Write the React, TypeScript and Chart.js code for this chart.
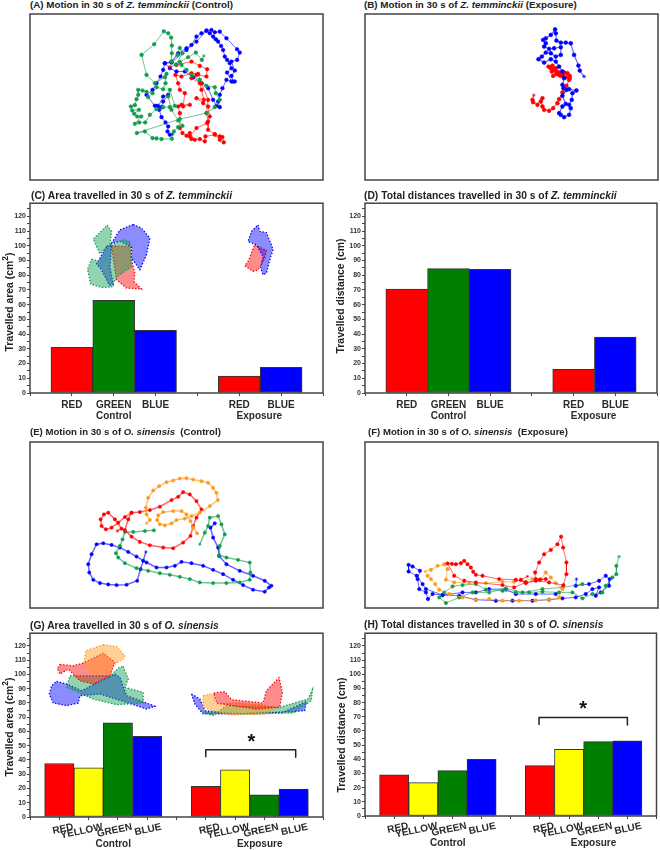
import React, { useEffect, useRef } from "react";
import { Chart, registerables } from "chart.js";
Chart.register(...registerables);

type P = [number, number];

const RED = "#ff0000", GREEN = "#0f9d4e", BLUE = "#0000ff", ORANGE = "#ff9a1c", BAR_GREEN = "#008000", YELLOW = "#ffff00";

// --- bar values
const ztCats = ["", "RED", "GREEN", "BLUE", "", "RED", "BLUE", ""];
const osCats = ["", "RED", "YELLOW", "GREEN", "BLUE", "", "RED", "YELLOW", "GREEN", "BLUE", ""];
const ztColors = [null, RED, BAR_GREEN, BLUE, null, RED, BLUE, null];
const osColors = [null, RED, YELLOW, BAR_GREEN, BLUE, null, RED, YELLOW, BAR_GREEN, BLUE, null];
const areaZt = [null, 31, 63, 42.5, null, 11.5, 17.5, null];
const distZt = [null, 70.5, 84.5, 84, null, 16, 38, null];
const areaOs = [null, 37.5, 34.5, 66, 56.5, null, 21.5, 33, 15.5, 19.5, null];
const distOs = [null, 29, 23.5, 32, 40, null, 35.5, 47, 52.5, 53, null];

// --- tracks, panel A
const aGreen: P[] = [[612,168],[606,180],[588,158],[565,172],[540,186],[528,194],[548,160],[540,144],[533,165],[515,185],[516,160],[516,137],[514,113],[505,100],[492,94],[463,133],[425,165],[440,225],[465,250],[495,232],[500,222],[497,250],[490,268],[470,262],[458,280],[445,292],[440,276],[428,272],[415,270],[415,285],[410,298],[405,316],[393,320],[397,332],[417,330],[403,342],[412,350],[424,350],[405,372],[418,368],[436,368],[450,345],[470,328],[490,322],[510,322],[525,318],[510,270],[505,290],[515,330],[535,362],[548,378],[535,382],[522,395],[516,417],[485,418],[470,416],[458,415],[435,395],[411,400],[540,358],[620,340],[645,322],[660,300],[648,280],[645,262],[620,258],[600,240],[575,225],[560,210],[545,195]];
const aBlue: P[] = [[518,403],[510,405],[503,395],[505,380],[497,368],[485,352],[478,330],[472,318],[485,322],[490,305],[505,285],[490,290],[475,320],[465,318],[440,285],[458,270],[470,250],[482,230],[490,210],[495,190],[515,185],[535,160],[560,145],[575,135],[590,110],[605,100],[620,92],[635,90],[645,97],[660,95],[680,115],[712,148],[720,158],[712,180],[695,185],[705,212],[695,228],[700,245],[680,240],[668,265],[660,285],[655,305],[660,322],[650,318],[640,300],[625,265],[605,250],[580,232],[555,215],[530,215],[510,205],[495,190],[515,188],[560,150],[590,125],[620,92],[630,100],[640,110],[648,118],[655,125],[664,138],[670,150],[675,170],[682,180],[690,190],[695,205],[682,218],[695,245],[705,245]];
const aRed: P[] = [[510,200],[530,195],[575,185],[600,198],[622,208],[620,230],[590,225],[575,235],[600,250],[605,270],[612,300],[590,295],[610,310],[625,320],[630,350],[622,370],[590,385],[570,410],[548,400],[540,385],[540,340],[535,320],[545,315],[570,315],[550,320],[555,280],[540,270],[535,250],[527,225],[545,230],[575,220],[595,222],[605,250],[625,300],[620,340],[625,365],[625,390],[645,403],[660,410],[668,412],[672,428],[660,420],[645,405],[617,410],[615,425],[600,418],[585,420],[570,400],[560,408],[575,418]];

// --- tracks, panel B
const bBlue: P[] = [[765,230],[752,212],[748,197],[735,165],[725,130],[710,128],[695,128],[682,122],[680,100],[678,88],[665,105],[650,115],[642,120],[650,130],[645,140],[660,147],[675,145],[695,142],[695,165],[680,170],[665,160],[650,158],[638,170],[628,178],[645,188],[665,178],[680,185],[690,200],[700,215],[705,235],[700,255],[703,265],[720,268],[742,272],[730,280],[728,300],[720,315],[725,325],[720,345],[705,352],[695,345],[690,340],[700,320],[710,312],[700,288],[712,270]];
const bRed: P[] = [[614,286],[610,300],[612,307],[625,315],[640,295],[635,305],[640,320],[645,330],[660,333],[672,325],[685,310],[690,298],[700,278],[712,258],[720,240],[722,228],[715,220],[700,225],[690,218],[680,205],[670,197],[658,200],[668,215],[680,212],[672,228],[690,225],[710,232],[722,235],[706,218],[695,228],[682,222],[674,208],[664,204],[700,215]];

// --- tracks, panel E
const eOrange: P[] = [[440,282],[450,272],[440,255],[438,235],[445,205],[460,183],[478,170],[500,158],[520,153],[540,147],[560,146],[580,150],[605,155],[625,160],[640,175],[650,190],[654,212],[630,230],[600,250],[575,260],[555,268],[530,272],[515,282],[495,288],[480,285],[472,272],[475,258],[490,248],[520,245],[545,245],[560,255],[572,275],[580,295],[592,312]];
const eRed: P[] = [[352,305],[365,298],[345,270],[325,250],[312,255],[302,270],[305,290],[318,300],[335,295],[355,280],[375,263],[395,250],[420,248],[450,242],[480,232],[515,212],[535,202],[550,188],[570,195],[590,215],[605,240],[590,265],[580,290],[572,320],[550,340],[520,357],[490,355],[450,348],[420,338],[395,322],[375,302],[385,270],[395,250]];
const eGreen: P[] = [[600,345],[615,310],[625,290],[630,265],[655,260],[665,285],[675,315],[660,350],[658,378],[680,385],[715,392],[750,400],[752,430],[750,452],[720,460],[680,462],[640,462],[600,460],[570,450],[540,443],[510,437],[480,432],[445,425],[410,417],[375,402],[355,385],[348,372],[360,350],[368,330],[375,308],[400,308],[435,305],[462,303]];
const eBlue: P[] = [[438,368],[430,395],[422,420],[412,455],[380,467],[350,468],[325,466],[300,462],[280,452],[268,430],[265,405],[275,375],[290,345],[310,342],[335,347],[360,355],[385,368],[410,382],[440,400],[470,415],[500,415],[525,410],[545,398],[575,402],[610,410],[640,422],[670,435],[700,452],[730,468],[760,482],[795,488],[808,475],[815,470],[795,455],[760,440],[720,425],[680,405],[658,380],[655,355],[640,325],[632,295],[645,282]];

// --- tracks, panel F
const fRed: P[] = [[595,442],[575,452],[590,462],[632,452],[650,450],[620,450],[618,430],[630,400],[645,375],[665,362],[685,345],[696,322],[702,355],[712,400],[712,435],[703,468],[660,460],[620,455],[590,460],[555,475],[520,468],[440,460],[405,455],[375,440],[355,403],[368,404],[380,405],[395,402],[405,395],[415,405],[425,415],[432,428],[440,437],[460,440],[510,450],[560,452],[590,460]];
const fOrange: P[] = [[288,427],[305,422],[325,410],[345,405],[355,420],[350,452],[375,460],[420,462],[470,462],[520,458],[555,458],[610,450],[635,450],[650,430],[665,445],[680,462],[700,480],[690,505],[660,512],[620,514],[570,515],[520,515],[480,510],[440,512],[400,505],[360,495],[330,482],[318,465],[305,450],[295,440]];
const fGreen: P[] = [[870,382],[862,410],[862,435],[850,445],[830,470],[820,490],[790,495],[760,508],[730,490],[690,490],[640,488],[600,490],[560,490],[520,485],[470,482],[440,465],[400,468],[370,472],[345,490],[330,505],[350,522],[390,505],[430,490],[480,490],[530,478],[580,490],[640,480],[700,475],[760,465]];
const fBlue: P[] = [[742,450],[740,470],[780,465],[810,455],[830,440],[842,450],[840,470],[815,490],[800,500],[810,475],[790,480],[770,495],[740,505],[700,508],[660,512],[610,515],[550,515],[500,515],[440,512],[390,500],[340,498],[310,495],[296,510],[290,490],[270,480],[265,450],[272,425],[250,412],[238,407],[238,427],[262,440],[280,465],[290,480],[340,498],[400,490],[440,490],[480,480],[530,480],[560,495],[620,495],[680,495]];

// --- inset area outlines
const cGreenA: P[] = [[322,106],[335,125],[330,165],[300,192],[280,148]];
const cGreenB: P[] = [[275,208],[300,215],[325,170],[370,150],[390,155],[395,230],[350,262],[335,292],[305,293],[272,283],[263,238]];
const cBlueA: P[] = [[400,104],[425,115],[450,145],[440,195],[420,240],[395,205],[395,170],[360,155],[335,160],[360,120]];
const cBlueB: P[] = [[320,170],[335,165],[330,230],[340,285],[328,285],[305,240],[290,222]];
const cRed: P[] = [[335,168],[392,170],[395,210],[405,250],[402,275],[425,298],[380,295],[350,270],[345,240]];
const cxBlue: P[] = [[775,105],[780,125],[800,128],[815,165],[820,180],[810,210],[800,250],[790,255],[783,235],[790,200],[770,165],[745,155],[755,125]];
const cxRed: P[] = [[765,165],[800,182],[795,205],[775,240],[760,245],[735,228],[745,215]];
const gOrange: P[] = [[310,87],[350,92],[375,120],[370,130],[335,150],[330,175],[270,170],[252,140],[258,105]];
const gRed: P[] = [[180,146],[220,150],[250,142],[310,112],[345,140],[330,180],[280,205],[240,195],[205,160],[180,175],[172,158]];
const gGreen: P[] = [[370,152],[385,190],[375,215],[430,230],[430,262],[350,267],[280,250],[200,215],[210,180],[280,180],[330,180],[358,155]];
const gBlue: P[] = [[170,197],[200,205],[245,225],[345,175],[360,185],[380,240],[430,258],[465,272],[440,280],[380,260],[300,235],[240,240],[235,262],[200,270],[160,262],[148,235],[155,210]];
const gxRed: P[] = [[642,232],[675,228],[695,252],[790,262],[800,225],[838,186],[848,230],[840,275],[770,280],[700,270],[650,262]];
const gxOrange: P[] = [[610,240],[640,234],[645,265],[710,262],[790,268],[830,275],[800,295],[690,298],[640,285],[610,275]];
const gxGreen: P[] = [[612,290],[640,300],[680,270],[840,275],[925,250],[938,222],[935,255],[880,292],[760,295]];
const gxBlue: P[] = [[575,235],[600,250],[615,285],[700,295],[850,290],[920,258],[915,285],[880,288],[700,295],[610,295],[585,265]];

// --- significance brackets
const gBracket: P[] = [[618,425],[618,403],[888,403],[888,425]];
const hBracket: P[] = [[630,328],[630,306],[897,306],[897,328]];

const titleFont = "'Liberation Sans', Arial, sans-serif";
const pts = (a: P[]) => a.map(([x, y]) => ({ x, y }));
const alpha = (c: string, a: number) => {
  const n = parseInt(c.slice(1), 16);
  return `rgba(${n >> 16},${(n >> 8) & 255},${n & 255},${a})`;
};

const framePlugin = {
  id: "frame",
  afterDatasetsDraw(chart: any) {
    const { ctx, chartArea: a } = chart;
    ctx.save();
    ctx.strokeStyle = "#444";
    ctx.lineWidth = 1.5;
    ctx.strokeRect(a.left, a.top, a.right - a.left, a.bottom - a.top);
    ctx.restore();
  },
};

type YTitle = { parts: [string, string, string]; x: number; cy: number };

function groupPlugin(groups: [string, number][], labelDy: number, yt: YTitle, star?: [number, number]) {
  return {
    id: "groups",
    afterDraw(chart: any) {
      const { ctx, scales } = chart;
      ctx.save();
      ctx.fillStyle = "#2a2a2a";
      ctx.font = `bold 10px ${titleFont}`;
      ctx.textAlign = "center";
      ctx.textBaseline = "middle";
      for (const [t, v] of groups) {
        ctx.fillText(t, scales.x.getPixelForValue(v), chart.chartArea.bottom + labelDy);
      }
      if (star) {
        ctx.fillStyle = "#111";
        ctx.font = `bold 20px ${titleFont}`;
        ctx.fillText("*", scales.mx.getPixelForValue(star[0]), scales.my.getPixelForValue(star[1]) + 4);
      }
      // y-axis title, with a raised exponent where it has one
      const [a, sup, b] = yt.parts;
      ctx.fillStyle = "#222";
      ctx.translate(yt.x, yt.cy);
      ctx.rotate(-Math.PI / 2);
      ctx.textAlign = "left";
      ctx.font = `bold 10.4px ${titleFont}`;
      const wa = ctx.measureText(a).width;
      const wb = ctx.measureText(b).width;
      ctx.font = `bold 8.5px ${titleFont}`;
      const ws = ctx.measureText(sup).width;
      let px = -(wa + wb + ws) / 2;
      ctx.font = `bold 10.4px ${titleFont}`;
      ctx.fillText(a, px, 0);
      px += wa;
      if (sup) {
        ctx.font = `bold 8.5px ${titleFont}`;
        ctx.fillText(sup, px, -4);
        px += ws;
        ctx.font = `bold 10.4px ${titleFont}`;
      }
      if (b) ctx.fillText(b, px, 0);
      ctx.restore();
    },
  };
}

type Track = [P[], string];
type MotionSpec = { left: number; top: number; range: [number, number, number, number]; tracks: Track[]; r: number; lw: number };
const PAD = 2;

function Motion({ left, top, range, tracks, r, lw }: MotionSpec) {
  const ref = useRef<HTMLCanvasElement>(null);
  useEffect(() => {
    const chart = new Chart(ref.current!, {
      type: "scatter",
      data: {
        datasets: tracks.map(([t, c]) => ({
          data: pts(t),
          showLine: true,
          borderColor: alpha(c, 0.6),
          borderWidth: lw,
          backgroundColor: c,
          pointBorderColor: c,
          pointBorderWidth: 0.6,
          pointRadius: r,
          pointStyle: (ctx: any) => (ctx.dataIndex === 0 ? "star" : "circle"),
        })),
      },
      options: {
        animation: false,
        responsive: false,
        events: [],
        layout: { padding: PAD, autoPadding: false },
        plugins: { legend: { display: false }, tooltip: { enabled: false } },
        scales: {
          x: { display: false, min: range[0], max: range[1] },
          y: { display: false, reverse: true, min: range[2], max: range[3] },
        },
      },
      plugins: [framePlugin],
    } as any);
    return () => chart.destroy();
  }, []);
  return <canvas ref={ref} width={297} height={170} style={{ position: "absolute", left, top, width: 297, height: 170 }} />;
}

type Shape = [P[], string];
type BarSpec = {
  left: number; top: number; height: number; plotLeft: number; plotTop: number; padRight: number; xAxisH: number;
  cats: string[]; values: (number | null)[]; colors: (string | null)[]; yMax: number; yTitle: YTitle;
  rotation: number; labelOffset: number; tickPad: number; groups: [string, number][]; groupDy: number;
  overlayY: [number, number]; overlayX: [number, number]; shapes: Shape[]; bracket?: P[]; star?: [number, number];
};

function Bars(s: BarSpec) {
  const ref = useRef<HTMLCanvasElement>(null);
  useEffect(() => {
    const datasets: any[] = [
      {
        type: "bar",
        data: s.values,
        backgroundColor: s.colors,
        borderColor: "#333",
        borderWidth: 1,
        borderSkipped: false,
        barPercentage: 1,
        categoryPercentage: 1,
        grouped: false,
        xAxisID: "x",
        yAxisID: "y",
        order: 5,
      },
      ...s.shapes.map(([p, c]) => ({
        type: "scatter",
        data: pts([...p, p[0]]),
        showLine: true,
        fill: "shape",
        backgroundColor: alpha(c, 0.45),
        borderColor: c,
        borderWidth: 1.3,
        borderDash: [1.4, 1.8],
        pointRadius: 0,
        xAxisID: "mx",
        yAxisID: "my",
        order: 3,
      })),
    ];
    if (s.bracket) {
      datasets.push({
        type: "scatter",
        data: pts(s.bracket),
        showLine: true,
        borderColor: "#222",
        borderWidth: 1.5,
        borderJoinStyle: "round",
        pointRadius: 0,
        xAxisID: "mx",
        yAxisID: "my",
        order: 1,
      });
    }
    const chart = new Chart(ref.current!, {
      type: "bar",
      data: { labels: s.cats, datasets },
      options: {
        animation: false,
        responsive: false,
        events: [],
        layout: {
          autoPadding: false,
          padding: { top: s.plotTop - s.top, right: s.padRight, left: 0, bottom: 0 },
        },
        plugins: { legend: { display: false }, tooltip: { enabled: false } },
        scales: {
          x: {
            type: "category",
            offset: false,
            afterFit: (a: any) => { a.height = s.xAxisH; },
            border: { display: false },
            grid: { drawOnChartArea: false, offset: false, tickLength: 3, tickColor: "#444", tickWidth: 1 },
            ticks: {
              autoSkip: false,
              color: "#2a2a2a",
              font: { family: titleFont, size: 10, weight: "bold" },
              minRotation: s.rotation,
              maxRotation: s.rotation,
              labelOffset: s.labelOffset,
              padding: s.tickPad,
            },
          },
          y: {
            min: 0,
            max: s.yMax,
            afterFit: (a: any) => { a.width = s.plotLeft - s.left; },
            border: { display: false },
            grid: { drawOnChartArea: false, tickLength: 3, tickColor: "#444", tickWidth: 1 },
            ticks: {
              stepSize: 5,
              includeBounds: false,
              autoSkip: false,
              color: "#333",
              padding: 1,
              font: { family: titleFont, size: 7, weight: "bold" },
              callback: (v: any) => (Number(v) % 10 === 0 ? String(v) : ""),
            },
          },
          mx: { type: "linear", axis: "x", offset: false, display: false, min: s.overlayX[0], max: s.overlayX[1] },
          my: { type: "linear", axis: "y", offset: false, display: false, reverse: true, min: s.overlayY[0], max: s.overlayY[1] },
        },
      },
      plugins: [framePlugin, groupPlugin(s.groups, s.groupDy, s.yTitle, s.star)],
    } as any);
    return () => chart.destroy();
  }, []);
  return (
    <canvas
      ref={ref}
      width={330}
      height={s.height}
      style={{ position: "absolute", left: s.left, top: s.top, width: 330, height: s.height }}
    />
  );
}

function Title({ x, y, size, pre, it, post }: { x: number; y: number; size: number; pre: string; it: string; post: string }) {
  return (
    <div
      style={{
        position: "absolute", left: x, top: y - 7, height: 14, whiteSpace: "pre", zIndex: 2,
        font: `bold ${size}px/14px ${titleFont}`, color: "#222",
      }}
    >
      {pre}<i>{it}</i>{post}
    </div>
  );
}

const AREA: [string, string, string] = ["Travelled area (cm", "2", ")"];
const DIST: [string, string, string] = ["Travelled distance (cm)", "", ""];

export default function App() {
  return (
    <div style={{ position: "absolute", left: 0, top: 0, width: 660, height: 850, overflow: "hidden", background: "#fff" }}>
      <Title x={30} y={5} size={9.8} pre="(A) Motion in 30 s of " it="Z. temminckii" post=" (Control)" />
      <Title x={364} y={5} size={9.8} pre="(B) Motion in 30 s of " it="Z. temminckii" post=" (Exposure)" />
      <Title x={31} y={196} size={10.3} pre="(C) Area travelled in 30 s of " it="Z. temminckii" post="" />
      <Title x={364} y={196} size={10.3} pre="(D) Total distances travelled in 30 s of " it="Z. temminckii" post="" />
      <Title x={30} y={432} size={9.6} pre="(E) Motion in 30 s of " it="O. sinensis" post="  (Control)" />
      <Title x={368} y={432} size={9.6} pre="(F) Motion in 30 s of " it="O. sinensis" post="  (Exposure)" />
      <Title x={30} y={626} size={10.2} pre="(G) Area travelled in 30 s of " it="O. sinensis" post="" />
      <Title x={364} y={625} size={10.2} pre="(H) Total distances travelled in 30 s of " it="O. sinensis" post="" />

      <Motion left={28} top={12} range={[90, 970, 42, 541]} r={1.8} lw={1}
        tracks={[[aGreen, GREEN], [aRed, RED], [aBlue, BLUE]]} />
      <Motion left={363} top={12} range={[107, 987, 42, 541]} r={1.9} lw={1.2}
        tracks={[[bBlue, BLUE], [bRed, RED]]} />
      <Motion left={28} top={440} range={[90, 970, 37, 537]} r={1.6} lw={1.5}
        tracks={[[eOrange, ORANGE], [eRed, RED], [eGreen, GREEN], [eBlue, BLUE]]} />
      <Motion left={363} top={440} range={[107, 987, 37, 537]} r={1.7} lw={1}
        tracks={[[fRed, RED], [fOrange, ORANGE], [fGreen, GREEN], [fBlue, BLUE]]} />

      <Bars left={0} top={198} height={235} plotLeft={30} plotTop={203} padRight={7} xAxisH={40}
        cats={ztCats} values={areaZt} colors={ztColors} yMax={128.9} yTitle={{ parts: AREA, x: 10, cy: 104 }}
        rotation={0} labelOffset={0} tickPad={3} groups={[["Control", 2], ["Exposure", 5.48]]} groupDy={23.5}
        overlayX={[90, 970]} overlayY={[40, 610]}
        shapes={[[cGreenA, GREEN], [cGreenB, GREEN], [cBlueA, BLUE], [cBlueB, BLUE], [cRed, RED], [cxBlue, BLUE], [cxRed, RED]]} />
      <Bars left={330} top={198} height={235} plotLeft={365} plotTop={203} padRight={1} xAxisH={40}
        cats={ztCats} values={distZt} colors={ztColors} yMax={128.9} yTitle={{ parts: DIST, x: 11, cy: 98 }}
        rotation={0} labelOffset={0} tickPad={3} groups={[["Control", 2], ["Exposure", 5.48]]} groupDy={23.5}
        overlayX={[104, 985]} overlayY={[40, 607]} shapes={[]} />
      <Bars left={0} top={628} height={222} plotLeft={30} plotTop={632} padRight={7} xAxisH={33}
        cats={osCats} values={areaOs} colors={osColors} yMax={128.9} yTitle={{ parts: AREA, x: 10, cy: 99 }}
        rotation={12} labelOffset={14} tickPad={1} groups={[["Control", 2.84], ["Exposure", 7.84]]} groupDy={27}
        overlayX={[90, 970]} overlayY={[52, 605]}
        shapes={[[gOrange, ORANGE], [gRed, RED], [gGreen, GREEN], [gBlue, BLUE], [gxRed, RED], [gxOrange, ORANGE], [gxGreen, GREEN], [gxBlue, BLUE]]}
        bracket={gBracket} star={[755, 368]} />
      <Bars left={330} top={628} height={222} plotLeft={365} plotTop={632} padRight={1} xAxisH={34}
        cats={osCats} values={distOs} colors={osColors} yMax={129} yTitle={{ parts: DIST, x: 12, cy: 107 }}
        rotation={12} labelOffset={14} tickPad={1} groups={[["Control", 2.84], ["Exposure", 7.84]]} groupDy={27}
        overlayX={[104, 985]} overlayY={[52, 602]} shapes={[]} bracket={hBracket} star={[763, 270]} />
    </div>
  );
}
